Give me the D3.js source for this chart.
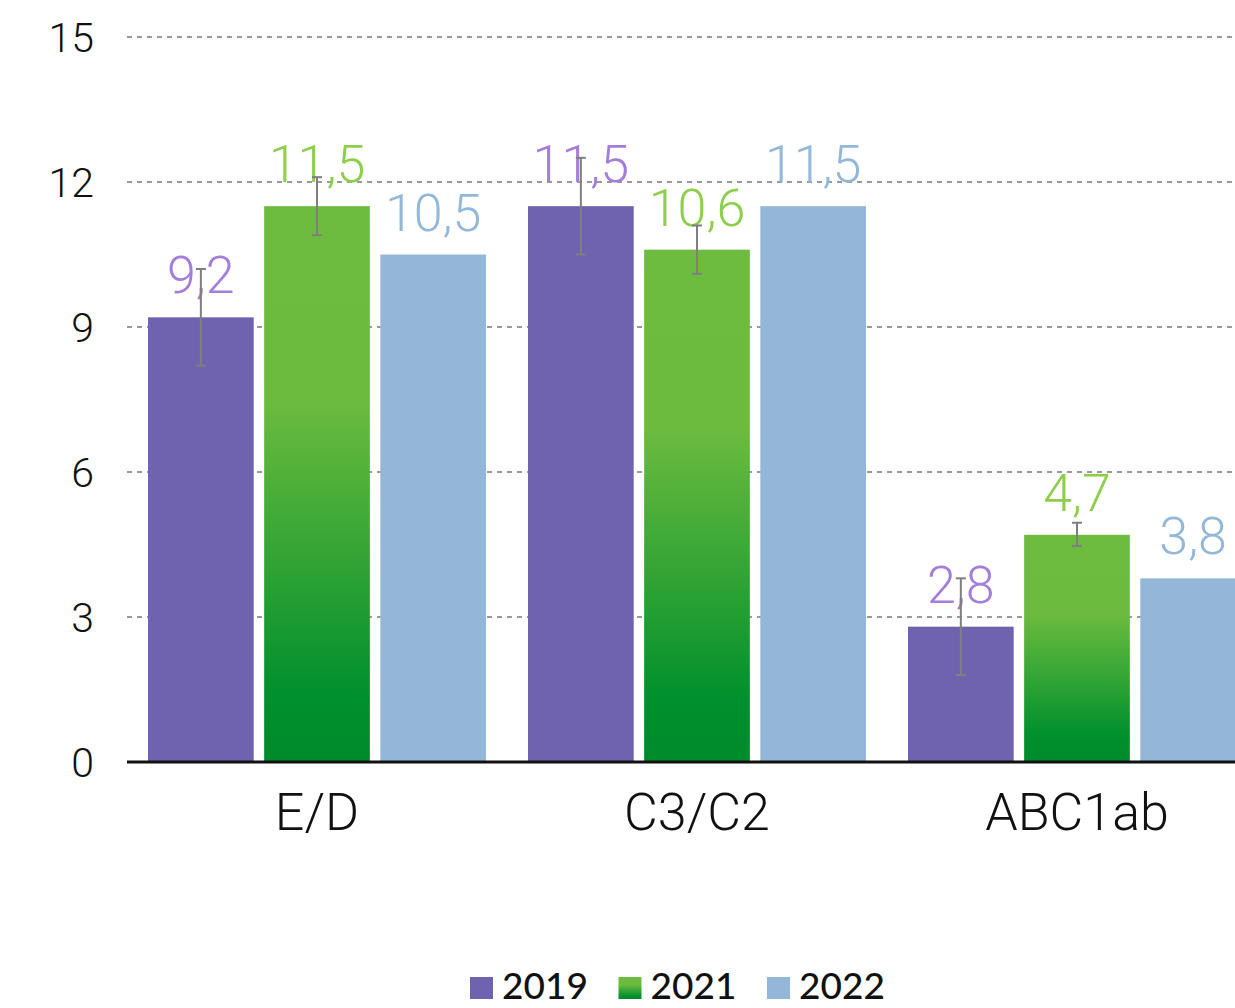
<!DOCTYPE html>
<html><head><meta charset="utf-8">
<script src="https://cdn.jsdelivr.net/npm/d3@7"></script>
<style>
html,body{margin:0;padding:0;background:#fff;}
svg{display:block;}
</style></head>
<body>
<svg id="chart" width="1235" height="1008"></svg>
<script>
const categories = ["E/D", "C3/C2", "ABC1ab"];
const seriesNames = ["2019", "2021", "2022"];
const values2019 = [9.2, 11.5, 2.8];
const values2021 = [11.5, 10.6, 4.7];
const values2022 = [10.5, 11.5, 3.8];
const errLow2019 = [8.2, 10.5, 1.8];
const errHigh2019 = [10.2, 12.5, 3.8];
const errLow2021 = [10.9, 10.1, 4.47];
const errHigh2021 = [12.1, 11.1, 4.95];
const valueLabels2019 = ["9,2", "11,5", "2,8"];
const valueLabels2021 = ["11,5", "10,6", "4,7"];
const valueLabels2022 = ["10,5", "11,5", "3,8"];
const yTicks = [0, 3, 6, 9, 12, 15];

const series = [
  {name: seriesNames[0], values: values2019, labels: valueLabels2019, lo: errLow2019, hi: errHigh2019},
  {name: seriesNames[1], values: values2021, labels: valueLabels2021, lo: errLow2021, hi: errHigh2021},
  {name: seriesNames[2], values: values2022, labels: valueLabels2022, lo: null, hi: null}
];
const fills = ["#6f63b0", "url(#greenGrad)", "#94b7d9"];
const labelColors = ["#a57ddb", "#8dcf4b", "#93b8da"];

const svg = d3.select("#chart");
const defs = svg.append("defs");
const g1 = defs.append("linearGradient").attr("id","greenGrad")
  .attr("x1",0).attr("y1",0).attr("x2",0).attr("y2",1);
g1.append("stop").attr("offset","0%").attr("stop-color","#6dbb3f");
g1.append("stop").attr("offset","35%").attr("stop-color","#6cbb3e");
g1.append("stop").attr("offset","88%").attr("stop-color","#00902d");
g1.append("stop").attr("offset","100%").attr("stop-color","#008a2c");

const y = d3.scaleLinear().domain([0, 15]).range([762, 37]);
const x0 = d3.scaleBand().domain(categories).range([127, 1267])
  .paddingInner(0.1105).paddingOuter(0.0553);
const x1 = d3.scaleBand().domain(seriesNames).range([0, x0.bandwidth()])
  .paddingInner(0.09).paddingOuter(0);

const FONT = "Roboto, 'Liberation Sans', sans-serif";

// grid
svg.append("g").selectAll("line").data(yTicks.filter(d => d > 0)).join("line")
  .attr("x1", 127).attr("x2", 1235)
  .attr("y1", d => y(d)).attr("y2", d => y(d))
  .attr("stroke", "#9a9a9a").attr("stroke-width", 2).attr("stroke-dasharray", "5,5");

// y tick labels
const yAxis = d3.axisLeft(y).tickValues(yTicks).tickSize(0).tickPadding(0);
const ya = svg.append("g").attr("transform", "translate(94,0)").call(yAxis);
ya.select(".domain").remove();
ya.selectAll("text").attr("font-family", FONT)
  .attr("font-weight", 300).attr("font-size", 41).attr("fill", "#111").attr("dy", "0.36em");

// bars
const groups = svg.append("g").selectAll("g").data(categories).join("g")
  .attr("transform", d => `translate(${x0(d)},0)`);

series.forEach((s, si) => {
  groups.append("rect")
    .attr("x", x1(s.name))
    .attr("width", x1.bandwidth())
    .attr("y", (d, i) => y(s.values[i]))
    .attr("height", (d, i) => y(0) - y(s.values[i]))
    .attr("fill", fills[si]);
});

// axis line
const xAxis = d3.axisBottom(x0).tickSize(0).tickPadding(0);
const xa = svg.append("g").attr("transform", `translate(0,${y(0)})`).call(xAxis);
xa.select(".domain").attr("stroke", "#111").attr("stroke-width", 3)
  .attr("d", "M127,0H1235");
xa.selectAll("text").attr("font-family", FONT)
  .attr("font-weight", 300).attr("font-size", 52).attr("fill", "#111")
  .attr("dy", 0).attr("y", 68);

// value labels
series.forEach((s, si) => {
  groups.append("text")
    .attr("x", x1(s.name) + x1.bandwidth() / 2)
    .attr("y", (d, i) => y(s.values[i]) - 24)
    .attr("text-anchor", "middle")
    .attr("font-family", FONT)
    .attr("font-weight", 300).attr("font-size", 52)
    .attr("fill", labelColors[si])
    .text((d, i) => s.labels[i]);
});

// error bars
series.forEach((s, si) => {
  if (!s.lo) return;
  const cx = x1(s.name) + x1.bandwidth() / 2;
  const eg = groups.append("g").attr("stroke", "#7f7f7f").attr("stroke-width", 2);
  eg.append("line").attr("x1", cx).attr("x2", cx)
    .attr("y1", (d, i) => y(s.lo[i])).attr("y2", (d, i) => y(s.hi[i]));
  eg.append("line").attr("x1", cx - 5).attr("x2", cx + 5)
    .attr("y1", (d, i) => y(s.lo[i])).attr("y2", (d, i) => y(s.lo[i]));
  eg.append("line").attr("x1", cx - 5).attr("x2", cx + 5)
    .attr("y1", (d, i) => y(s.hi[i])).attr("y2", (d, i) => y(s.hi[i]));
});

// legend
const legendX = d3.scalePoint().domain(seriesNames).range([470, 767]);
const lg = svg.append("g").selectAll("g").data(seriesNames).join("g")
  .attr("transform", d => `translate(${legendX(d)},0)`);
lg.append("rect").attr("x", 0).attr("y", 977).attr("width", 23).attr("height", 22)
  .attr("fill", (d, i) => fills[i]);
lg.append("text").attr("x", 32).attr("y", 999)
  .attr("font-family", "Lato, 'Open Sans', sans-serif").attr("font-weight", 500)
  .attr("font-size", 37).attr("fill", "#111").text(d => d);
</script>
</body></html>
